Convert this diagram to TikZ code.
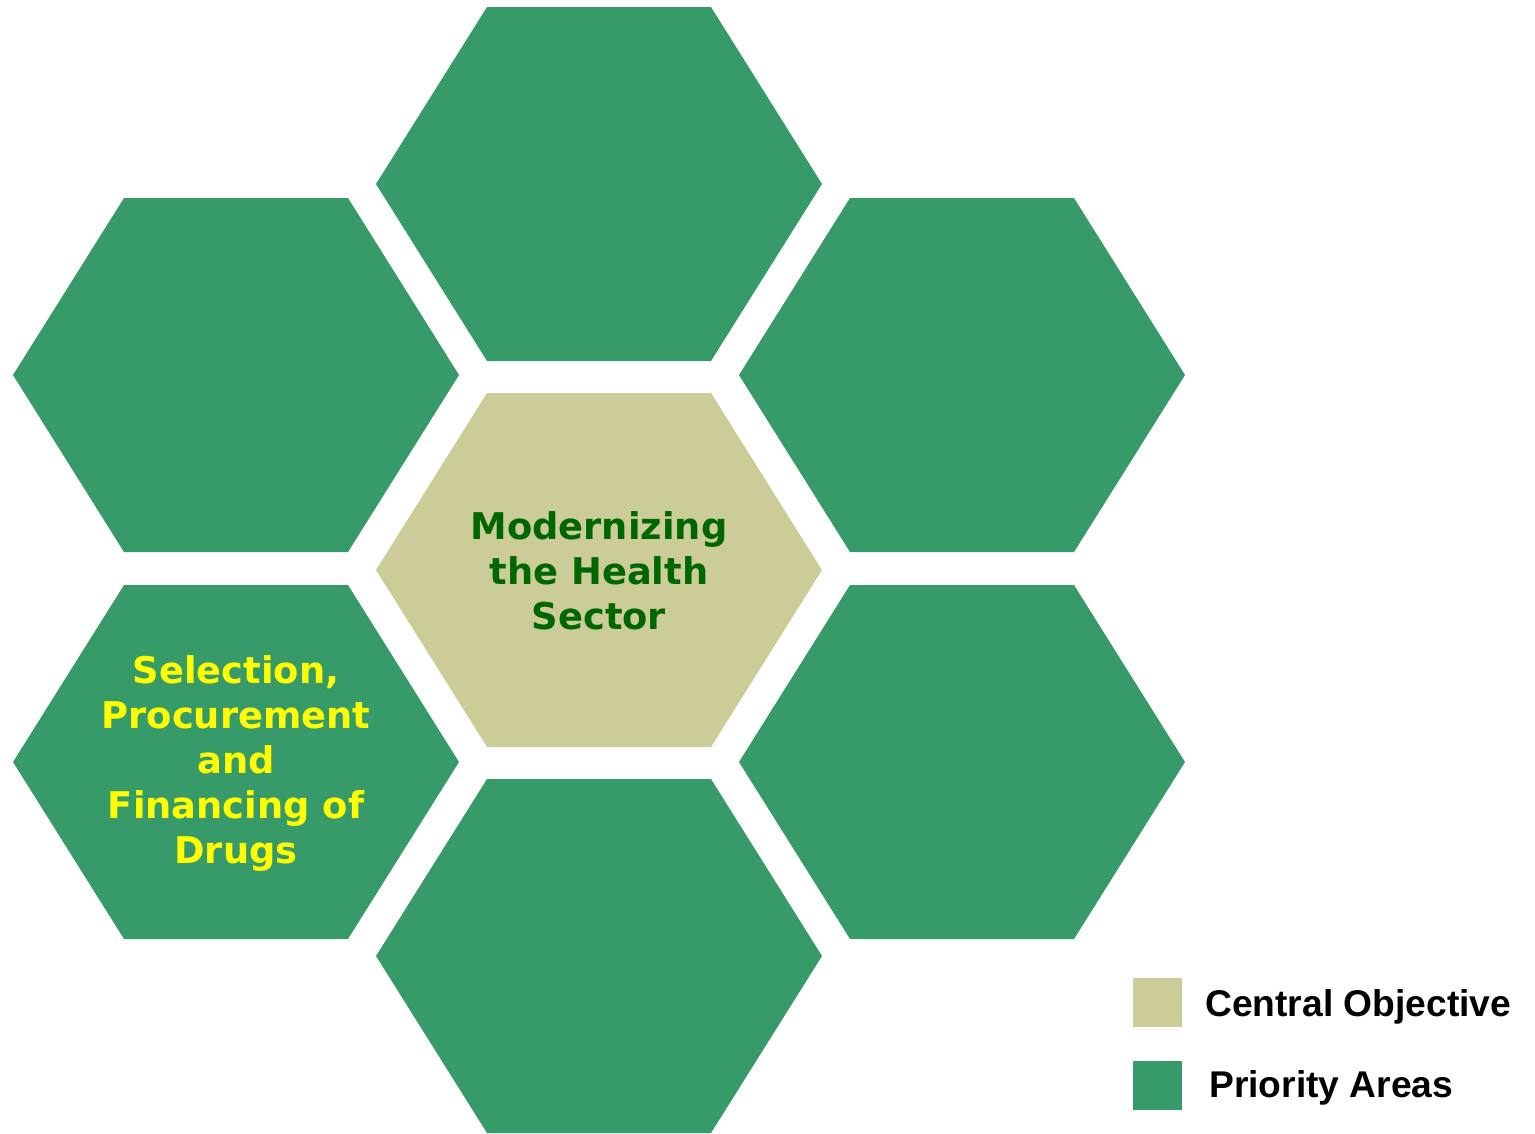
\documentclass[tikz,border=0pt]{standalone}
\usepackage{fontspec}
\setmainfont{DejaVu Sans}
\newfontfamily\keyfont{Liberation Sans}
\usetikzlibrary{positioning}

\definecolor{cellgreen}{RGB}{54,154,105}
\definecolor{celltan}{RGB}{204,204,153}
\definecolor{labelgreen}{RGB}{0,102,0}
\definecolor{labelyellow}{RGB}{255,255,0}

% one flattened hexagon, centre (#1,#2), colour #3
\newcommand{\hexcell}[3]{%
  \fill[#3] (#1-223,#2) -- (#1-112,#2-177) -- (#1+112,#2-177)
    -- (#1+223,#2) -- (#1+112,#2+177) -- (#1-112,#2+177) -- cycle;}

\begin{document}
\begin{tikzpicture}[x=0.75pt,y=-0.75pt,
  celltext/.style={align=center,inner sep=0pt,
    font=\fontsize{27.6}{33.75}\selectfont\bfseries},
  keybox/.style={minimum size=36.75pt,inner sep=0pt},
  keytext/.style={anchor=base west,inner sep=0pt,
    font=\keyfont\fontsize{27.9}{32}\selectfont\bfseries}]

\useasboundingbox (0,0) rectangle (1535,1133);

% ring of priority areas round the centre
\hexcell{599}{184}{cellgreen}
\hexcell{236}{375}{cellgreen}
\hexcell{962}{375}{cellgreen}
\hexcell{236}{762}{cellgreen}
\hexcell{962}{762}{cellgreen}
\hexcell{599}{956}{cellgreen}
\hexcell{599}{570}{celltan}

\node[celltext,text=labelgreen] (central) at (599,571)
  {Modernizing\\the Health\\Sector};
\node[celltext,text=labelyellow] (drugs) at (236,763)
  {Selection,\\Procurement\\and\\Financing of\\Drugs};

% legend
\node[keybox,fill=celltan] (keycentral) at (1157.5,1002.5) {};
\node[keybox,fill=cellgreen] (keypriority) at (1157.5,1085.5) {};
\node[keytext] (labcentral) at (1205,1016) {Central Objective};
\node[keytext] (labpriority) at (1209,1097) {Priority Areas};

\end{tikzpicture}
\end{document}
